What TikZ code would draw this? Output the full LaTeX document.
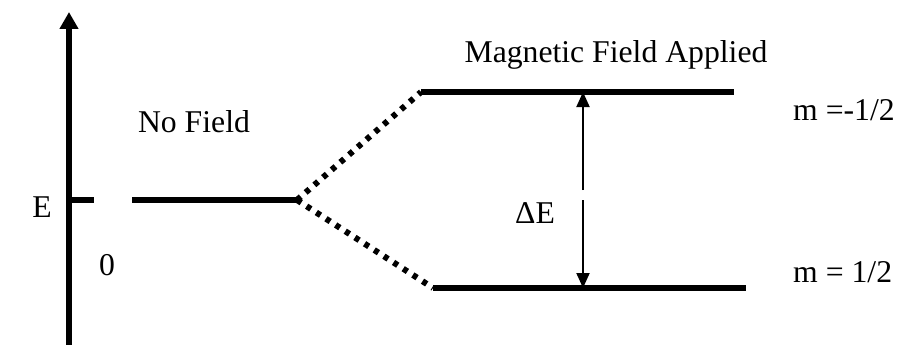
\documentclass[tikz,border=0pt]{standalone}
\usepackage{fontspec}
\setmainfont{Liberation Serif}
\usetikzlibrary{arrows.meta}
\begin{document}
\begin{tikzpicture}[x=1pt,y=-1pt,
  lbl/.style={inner sep=0pt,font=\fontsize{31.7}{38}\selectfont},
  level/.style={line width=6pt},
  dots/.style={line width=6pt,dash pattern=on 5pt off 6.5pt},
  gap/.style={line width=2pt,-{Triangle[length=15pt,width=13pt]}}]
\useasboundingbox (0,0) rectangle (897,345);
% axis
\coordinate (ab) at (69,345);
\coordinate (at) at (69,12);
\draw[line width=5.5pt,-{Triangle[length=17pt,width=18pt]}] (ab) -- (at);
% zero level
\coordinate (t0) at (67,200);
\coordinate (t1) at (94,200);
\draw[level] (t0) -- (t1);
\coordinate (z0) at (132,200);
\coordinate (z1) at (297,200);
\draw[level] (z0) -- (z1);
% split levels
\coordinate (u0) at (421,92);
\coordinate (u1) at (734,92);
\coordinate (l0) at (433,288);
\coordinate (l1) at (746,288);
\draw[level] (u0) -- (u1);
\draw[level] (l0) -- (l1);
\draw[dots] (z1) -- (u0);
\draw[dots] (z1) -- (l0);
% delta E arrows
\coordinate (m0) at (583,190);
\coordinate (m1) at (583,200);
\coordinate (a0) at (583,92);
\coordinate (a1) at (583,288);
\draw[gap] (m0) -- (a0);
\draw[gap] (m1) -- (a1);
% labels
\node[lbl] (E) at (42,207) {E};
\node[lbl] (zero) at (107,265) {0};
\node[lbl] (nf) at (194,122) {No Field};
\node[lbl] (mfa) at (616,55) {Magnetic Field Applied};
\node[lbl] (de) at (535,213) {ΔE};
\node[lbl,anchor=west] (mm) at (793,110) {m =-1/2};
\node[lbl,anchor=west] (mp) at (793,272) {m = 1/2};
\end{tikzpicture}
\end{document}
